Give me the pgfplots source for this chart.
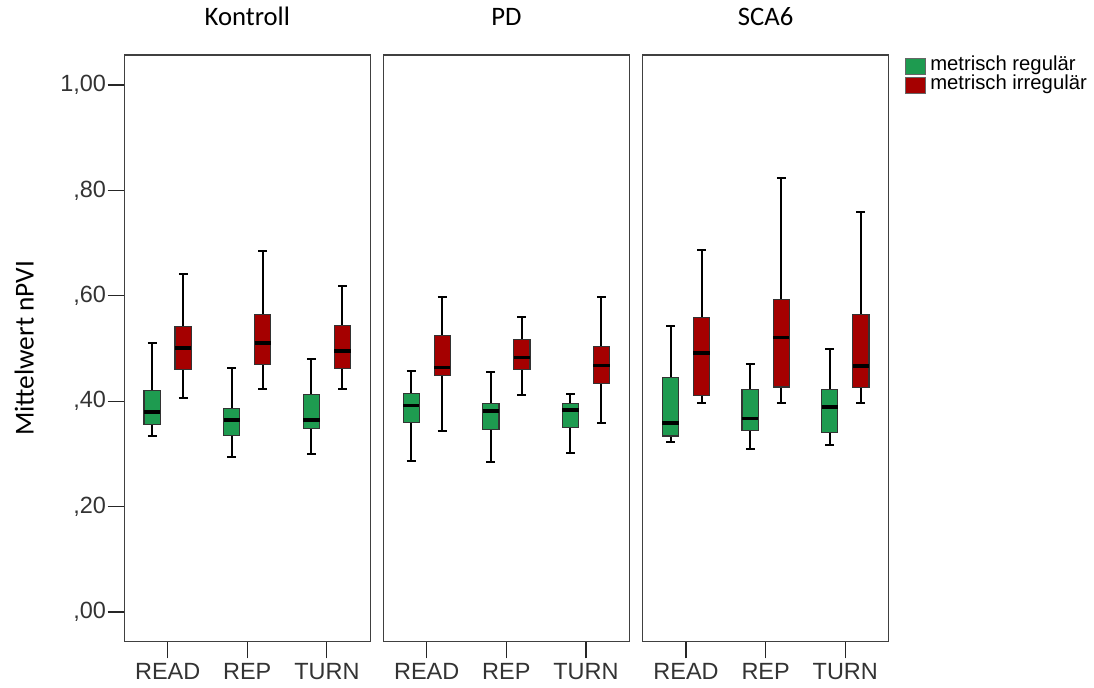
\documentclass[border=0pt]{standalone}
\usepackage{pgfplots}
\pgfplotsset{compat=1.18}
\usepgfplotslibrary{statistics}
\usepackage{fontspec}
\setmainfont{Liberation Sans}
\newfontfamily\calib{Carlito}
\definecolor{mygreen}{RGB}{30,155,80}
\definecolor{myred}{RGB}{165,0,0}

\pgfplotsset{
  panel/.style={
    scale only axis, width=184.5pt, height=440pt,
    anchor=south west,
    xmin=-0.545, xmax=2.545, ymin=-0.0564, ymax=1.057,
    xtick={0,1,2}, xticklabels={READ,REP,TURN},
    ytick={0,0.2,0.4,0.6,0.8,1},
    yticklabels={{,00},{,20},{,40},{,60},{,80},{1,00}},
    axis line style={black!75, line width=1.1pt},
    tick style={black!85, line width=0.9pt},
    major tick length=12.5pt, tick align=outside,
    xtick pos=left, ytick pos=left,
    ticklabel style={font=\fontsize{17.6}{20}\selectfont, text=black!80},
    yticklabel style={inner xsep=1pt},
    title style={font=\calib\fontsize{20}{24}\selectfont, anchor=base, at={(0.5,1)}, yshift=16.5pt},
    boxplot/draw direction=y,
    boxplot/box extend=0.205,
    boxplot/whisker extend=0.11,
    boxplot/every box/.style={draw=black!80, line width=0.8pt},
    boxplot/every whisker/.style={draw=black, line width=1.5pt},
    boxplot/every median/.style={draw=black, line width=2.8pt},
  }
}
% draw position, lower whisker, lower quartile, median, upper quartile, upper whisker, colour
\newcommand\bp[7]{\addplot[forget plot, fill=#7, draw=black!80, boxplot prepared={draw position=#1, lower whisker=#2, lower quartile=#3, median=#4, upper quartile=#5, upper whisker=#6}] coordinates {};}

\begin{document}
\begin{tikzpicture}
\useasboundingbox (0,0) rectangle (820.5pt,515.25pt);

\begin{axis}[panel, at={(93.2pt,33.975pt)}, title={Kontroll},
  ylabel={Mittelwert nPVI},
  ylabel style={font=\calib\fontsize{20.5}{24}\selectfont, at={(axis description cs:-0.407,0.5)}, anchor=center}]
\bp{-0.195}{0.334}{0.356}{0.379}{0.421}{0.511}{mygreen}
\bp{0.195}{0.407}{0.460}{0.501}{0.542}{0.641}{myred}
\bp{0.805}{0.295}{0.335}{0.364}{0.387}{0.464}{mygreen}
\bp{1.195}{0.423}{0.470}{0.511}{0.564}{0.685}{myred}
\bp{1.805}{0.299}{0.349}{0.364}{0.413}{0.480}{mygreen}
\bp{2.195}{0.423}{0.462}{0.495}{0.543}{0.618}{myred}
\end{axis}

\begin{axis}[panel, at={(287.5pt,33.975pt)}, title={PD}, ytick=\empty]
\bp{-0.195}{0.287}{0.359}{0.392}{0.414}{0.458}{mygreen}
\bp{0.195}{0.344}{0.449}{0.464}{0.524}{0.598}{myred}
\bp{0.805}{0.284}{0.347}{0.382}{0.395}{0.455}{mygreen}
\bp{1.195}{0.412}{0.461}{0.483}{0.518}{0.560}{myred}
\bp{1.805}{0.301}{0.351}{0.383}{0.395}{0.414}{mygreen}
\bp{2.195}{0.359}{0.433}{0.468}{0.503}{0.597}{myred}
\end{axis}

\begin{axis}[panel, at={(482pt,33.975pt)}, title={SCA6}, ytick=\empty,
  legend style={at={(1,1)}, anchor=north west, xshift=12pt, yshift=-1pt,
    draw=none, fill=none, inner sep=0pt, row sep=0pt,
    font=\fontsize{15.2}{16}\selectfont,
    nodes={inner xsep=3.5pt, inner ysep=0pt, text height=10.5pt, text depth=3.75pt, anchor=west}},
  legend cell align=left]
\bp{-0.195}{0.322}{0.334}{0.359}{0.445}{0.542}{mygreen}
\bp{0.195}{0.396}{0.410}{0.492}{0.559}{0.687}{myred}
\bp{0.805}{0.309}{0.344}{0.367}{0.423}{0.471}{mygreen}
\bp{1.195}{0.396}{0.427}{0.521}{0.593}{0.823}{myred}
\bp{1.805}{0.316}{0.341}{0.389}{0.423}{0.500}{mygreen}
\bp{2.195}{0.396}{0.426}{0.467}{0.565}{0.759}{myred}
\addlegendimage{legend image code/.code={\draw[fill=mygreen, draw=black!60, line width=0.5pt] (0pt,-6.1pt) rectangle (15pt,6.1pt);}}
\addlegendentry{metrisch regulär}
\addlegendimage{legend image code/.code={\draw[fill=myred, draw=black!60, line width=0.5pt] (0pt,-6.1pt) rectangle (15pt,6.1pt);}}
\addlegendentry{metrisch irregulär}
\end{axis}
\end{tikzpicture}
\end{document}
